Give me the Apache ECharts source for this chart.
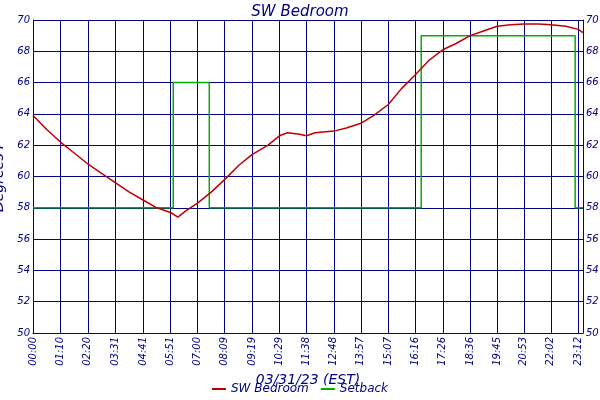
<!DOCTYPE html>
<html><head><meta charset="utf-8">
<script src="https://cdn.jsdelivr.net/npm/echarts@6/dist/echarts.min.js"></script>
</head><body style="margin:0">
<div id="main" style="width:600px;height:400px"></div>
<script>
// minutes since midnight
var tickMinutes = [0, 70, 140, 211, 281, 351, 420, 489, 559, 629, 698, 768, 837, 907, 976, 1046, 1116, 1185, 1253, 1322, 1392, 1404];
var tempTimes = [0, 35, 70, 105, 140, 175, 211, 246, 281, 316, 351, 370, 390, 420, 455, 489, 525, 559, 600, 629, 650, 680, 698, 720, 768, 800, 837, 870, 907, 940, 976, 1010, 1046, 1080, 1116, 1150, 1185, 1220, 1253, 1290, 1322, 1360, 1392, 1404];
var tempValues = [63.9, 63.0, 62.2, 61.5, 60.8, 60.2, 59.6, 59.0, 58.5, 58.0, 57.7, 57.4, 57.8, 58.3, 59.0, 59.8, 60.7, 61.4, 62.0, 62.6, 62.8, 62.7, 62.6, 62.8, 62.9, 63.1, 63.4, 63.9, 64.6, 65.6, 66.5, 67.4, 68.1, 68.5, 69.0, 69.3, 69.6, 69.7, 69.75, 69.75, 69.7, 69.6, 69.4, 69.2];
var setbackTimes = [0, 358, 450, 991, 1384, 1404];
var setbackValues = [58, 66, 58, 69, 58, 58];

function hhmm(m) {
	var h = Math.floor(m / 60), mm = m % 60;
	return (h < 10 ? '0' : '') + h + ':' + (mm < 10 ? '0' : '') + mm;
}
function pairs(xs, ys) {
	var out = [];
	for (var i = 0; i < xs.length; i++) out.push([xs[i], ys[i]]);
	return out;
}
var navy = '#000080';
var fnt = { fontFamily: 'DejaVu Sans', fontStyle: 'italic', color: navy };
var vLines = tickMinutes.map(function(m) { return { xAxis: m }; });
var chart = echarts.init(document.getElementById('main'));
chart.setOption({
	animation: false,
	backgroundColor: '#fff',
	title: { text: 'SW Bedroom', left: 'center', top: 0, textStyle: Object.assign({ fontSize: 15, fontWeight: 'normal' }, fnt) },
	legend: {
		bottom: 0, itemWidth: 14, itemHeight: 2, icon: 'rect', itemGap: 12,
		textStyle: Object.assign({ fontSize: 12 }, fnt),
		data: ['SW Bedroom', 'Setback']
	},
	grid: { left: 33, right: 17, top: 20, bottom: 67, outerBoundsMode: 'none' },
	xAxis: {
		type: 'value', min: 0, max: 1404,
		name: '03/31/23 (EST)', nameLocation: 'middle', nameGap: 37,
		nameTextStyle: Object.assign({ fontSize: 14 }, fnt),
		axisLine: { lineStyle: { color: navy } },
		axisTick: { show: false },
		axisLabel: { customValues: tickMinutes, rotate: 90, fontSize: 10, formatter: hhmm, fontFamily: 'DejaVu Sans', fontStyle: 'italic', color: navy, margin: 4 },
		splitLine: { show: false }
	},
	yAxis: [{
		type: 'value', min: 50, max: 70, interval: 2,
		name: 'Degrees F', nameLocation: 'middle', nameGap: 20,
		nameTextStyle: Object.assign({ fontSize: 14 }, fnt),
		axisLine: { show: true, lineStyle: { color: navy } },
		axisTick: { show: false },
		axisLabel: { fontSize: 10, fontFamily: 'DejaVu Sans', fontStyle: 'italic', color: navy, margin: 3 },
		splitLine: { lineStyle: { color: navy, width: 1 } }
	}, {
		type: 'value', min: 50, max: 70, interval: 2, position: 'right',
		axisLine: { show: true, lineStyle: { color: navy } },
		axisTick: { show: false },
		axisLabel: { fontSize: 10, fontFamily: 'DejaVu Sans', fontStyle: 'italic', color: navy, margin: 3 },
		splitLine: { show: false }
	}],
	series: [{
		name: 'SW Bedroom', type: 'line', showSymbol: false, z: 3,
		itemStyle: { color: '#c00000' }, lineStyle: { color: '#c00000', width: 1.5 },
		data: pairs(tempTimes, tempValues),
		markLine: {
			silent: true, symbol: 'none', label: { show: false }, z: 1,
			lineStyle: { color: navy, width: 1, type: 'solid' },
			data: vLines
		}
	}, {
		name: 'Setback', type: 'line', step: 'end', showSymbol: false, z: 2,
		itemStyle: { color: '#00b000' }, lineStyle: { color: '#00b000', width: 1.5 },
		data: pairs(setbackTimes, setbackValues)
	}]
});
</script>
</body></html>
